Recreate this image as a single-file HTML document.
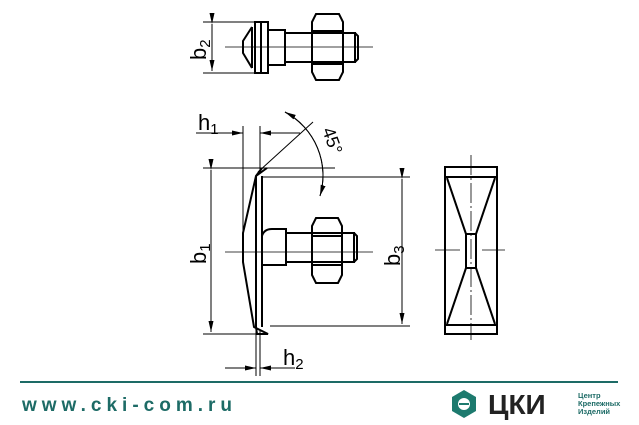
<!DOCTYPE html>
<html><head><meta charset="utf-8"><style>
html,body{margin:0;padding:0;background:#fff;width:639px;height:425px;overflow:hidden}
svg{display:block}
</style></head><body>
<svg width="639" height="425" viewBox="0 0 639 425" xmlns="http://www.w3.org/2000/svg" font-family="Liberation Sans, sans-serif">
<defs>
<marker id="a" markerWidth="11" markerHeight="5" refX="11" refY="2.5" orient="auto" markerUnits="userSpaceOnUse"><path d="M0,0 L11,2.5 L0,5 z" fill="#000"/></marker>
</defs>
<g stroke="#000" fill="none" stroke-width="1">
<line x1="203" y1="22" x2="262" y2="22"/><line x1="203" y1="73" x2="262" y2="73"/>
<line x1="212" y1="24" x2="212" y2="71" marker-start="url(#a)" marker-end="url(#a)"/>
<g stroke-width="2">
<path d="M252,27 L243,41 L243,53 L252,68"/>
<line x1="252" y1="27" x2="252" y2="68"/>
<rect x="255" y="22" width="6" height="51"/><rect x="261" y="22" width="7" height="51"/>
<rect x="268" y="30" width="17" height="35"/>
<rect x="285" y="33" width="70" height="29"/>
<path d="M355,33 L358,36 L358,59 L355,62"/>
<path d="M316,14 L339,14 L343,22 L343,72 L339,80 L316,80 L312,72 L312,22 Z"/>
<line x1="312" y1="31" x2="343" y2="31"/><line x1="312" y1="64" x2="343" y2="64"/>
</g>
<line x1="225" y1="47" x2="373" y2="47" stroke-width=".8"/>
<line x1="243" y1="126" x2="243" y2="240"/>
<line x1="260" y1="126" x2="260" y2="172"/>
<line x1="196" y1="133" x2="243" y2="133" marker-end="url(#a)"/>
<line x1="300" y1="133" x2="260" y2="133" marker-end="url(#a)"/>
<line x1="203" y1="168" x2="335" y2="168"/>
<line x1="203" y1="334" x2="262" y2="334"/>
<line x1="211" y1="170" x2="211" y2="332" marker-start="url(#a)" marker-end="url(#a)"/>
<line x1="262" y1="177" x2="410" y2="177"/>
<line x1="270" y1="326" x2="410" y2="326"/>
<line x1="402" y1="179" x2="402" y2="324" marker-start="url(#a)" marker-end="url(#a)"/>
<line x1="256" y1="330" x2="256" y2="376"/><line x1="260" y1="330" x2="260" y2="376"/>
<line x1="225" y1="368" x2="256" y2="368" marker-end="url(#a)"/>
<line x1="295" y1="368" x2="260" y2="368" marker-end="url(#a)"/>
<line x1="258" y1="172" x2="313" y2="122"/>
<path d="M285,112 A72,72 0 0 1 320,196" marker-end="url(#a)"/>
<path d="M320,196 A72,72 0 0 0 285,112" marker-end="url(#a)"/>
<g stroke-width="2">
<path d="M267,168 L256,176 L243,233 L243,262 L254,327 L268,334 L257,334 L256,327 M256,176 L262,168"/>
<line x1="256" y1="176" x2="256" y2="327"/>
<line x1="262" y1="176" x2="262" y2="327"/>
<path d="M262,236 Q264,229 272,229 L286,229 L286,265 L262,265"/>
<rect x="286" y="233" width="68" height="29"/>
<path d="M354,233 L357,236 L357,259 L354,262"/>
<path d="M316,218 L338,218 L342,226 L342,275 L338,283 L316,283 L312,275 L312,226 Z"/>
<line x1="312" y1="236" x2="342" y2="236"/><line x1="312" y1="265" x2="342" y2="265"/>
</g>
<line x1="225" y1="252" x2="373" y2="252" stroke-width=".8"/>
<g stroke-width="2">
<rect x="445" y="167" width="52" height="167"/>
<line x1="445" y1="177" x2="497" y2="177"/><line x1="445" y1="325" x2="497" y2="325"/>
<rect x="466" y="234" width="10" height="34"/>
<path d="M447,178 L466,234 M495,178 L476,234 M447,324 L466,268 M495,324 L476,268"/>
</g>
<line x1="471" y1="155" x2="471" y2="340" stroke-width=".8" stroke-dasharray="20,3,2,3"/>
<line x1="435" y1="250" x2="460" y2="250" stroke-width=".8"/><line x1="482" y1="250" x2="505" y2="250" stroke-width=".8"/>
</g>
<g font-size="22" fill="#000">
<text x="198" y="130">h<tspan font-size="15" dy="4">1</tspan></text>
<text x="283" y="365">h<tspan font-size="15" dy="4">2</tspan></text>
<text transform="translate(206,60) rotate(-90)">b<tspan font-size="15" dy="4">2</tspan></text>
<text transform="translate(206,264) rotate(-90)">b<tspan font-size="15" dy="4">1</tspan></text>
<text transform="translate(400,266) rotate(-90)">b<tspan font-size="15" dy="4">3</tspan></text>
<text transform="translate(322,130) rotate(70)" font-size="18">45°</text>
</g>
<line x1="20" y1="382" x2="618" y2="382" stroke="#1d6b66" stroke-width="2"/>
<text x="22" y="411" font-size="19" fill="#1d6b66" font-weight="bold" letter-spacing="5">www.cki-com.ru</text>
<path d="M464,390 L476,397 L476,411 L464,418 L452,411 L452,397 Z" fill="#1d7a6e"/>
<circle cx="464" cy="404" r="6" fill="#fff"/><rect x="459" y="403" width="10" height="2" fill="#1d7a6e"/>
<text x="488" y="414" font-size="28" font-weight="bold" fill="#222" font-family="Liberation Sans, DejaVu Sans, sans-serif">ЦКИ</text>
<text x="578" y="398" font-size="7.5" font-weight="bold" fill="#1d6b66">Центр</text>
<text x="578" y="406" font-size="7.5" font-weight="bold" fill="#1d6b66">Крепежных</text>
<text x="578" y="414" font-size="7.5" font-weight="bold" fill="#1d6b66">Изделий</text>
</svg>
</body></html>
